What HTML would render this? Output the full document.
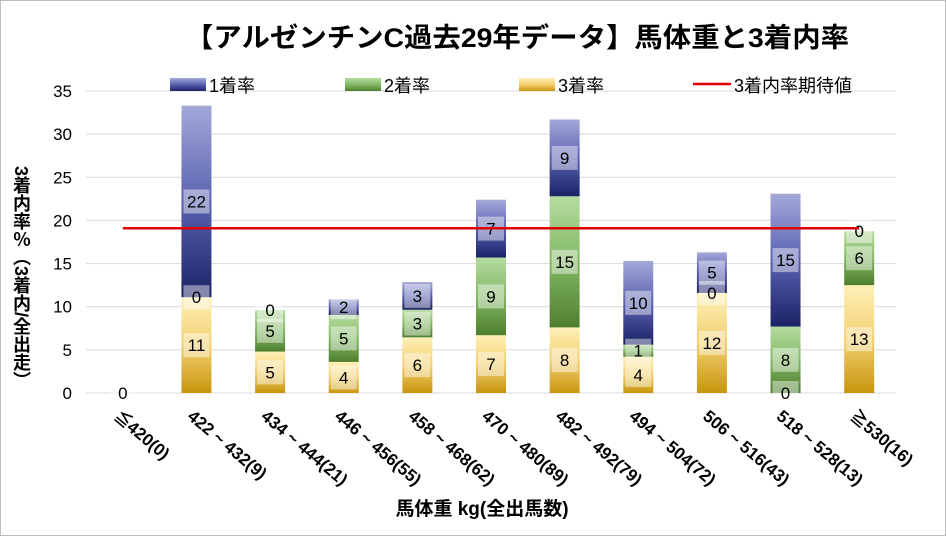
<!DOCTYPE html>
<html><head><meta charset="utf-8">
<style>
body{margin:0;background:#fff;}
#wrap{position:relative;width:946px;height:536px;overflow:hidden;font-family:"Liberation Sans","Noto Sans CJK JP",sans-serif;}
svg text{font-family:"Liberation Sans","Noto Sans CJK JP",sans-serif;}
</style></head><body>
<div id="wrap">
<svg id="chart" width="946" height="536" viewBox="0 0 946 536">
<defs>
<linearGradient id="g1" x1="0" y1="0" x2="0" y2="1"><stop offset="0" stop-color="#a4a9d9"/><stop offset="0.5" stop-color="#5a62b0"/><stop offset="1" stop-color="#1c2266"/></linearGradient>
<linearGradient id="g2" x1="0" y1="0" x2="0" y2="1"><stop offset="0" stop-color="#b5dca0"/><stop offset="0.5" stop-color="#82b864"/><stop offset="1" stop-color="#4f7f2e"/></linearGradient>
<linearGradient id="g3" x1="0" y1="0" x2="0" y2="1"><stop offset="0" stop-color="#fff0b8"/><stop offset="0.5" stop-color="#f2cf70"/><stop offset="1" stop-color="#c8960e"/></linearGradient>
</defs>
<rect x="0.5" y="0.5" width="945" height="535" fill="#fff" stroke="#bfbfbf"/>
<text x="517" y="47" text-anchor="middle" font-size="27" font-weight="bold" fill="#000" textLength="664" lengthAdjust="spacingAndGlyphs">【アルゼンチンC過去29年データ】馬体重と3着内率</text>
<g id="grid"></g><g id="bars"></g><g id="labels"></g>
<g>
<rect x="170" y="78" width="36" height="13" fill="url(#g1)"/>
<text x="209" y="92" font-size="18">1着率</text>
<rect x="345" y="78" width="36" height="13" fill="url(#g2)"/>
<text x="384" y="92" font-size="18">2着率</text>
<rect x="519" y="78" width="36" height="13" fill="url(#g3)"/>
<text x="558" y="92" font-size="18">3着率</text>
<line x1="693" y1="84" x2="731" y2="84" stroke="#e00000" stroke-width="2.5"/>
<text x="734" y="92" font-size="18">3着内率期待値</text>
</g>
<text x="482" y="515" text-anchor="middle" font-size="19" font-weight="bold">馬体重 kg(全出馬数)</text>
</svg>
<div style="position:absolute;left:10px;top:166px;writing-mode:vertical-rl;font-size:18px;font-weight:bold;line-height:22px;">3着内率％（3着内/全出走）</div>
</div>
<script>
const categories=["≦420(0)","422 ~ 432(9)","434 ~ 444(21)","446 ~ 456(55)","458 ~ 468(62)","470 ~ 480(89)","482 ~ 492(79)","494 ~ 504(72)","506 ~ 516(43)","518 ~ 528(13)","≧530(16)"];
const third=[0,11.1,4.8,3.6,6.45,6.7,7.6,4.2,11.6,0,12.5];
const second=[0,0,4.8,5.45,3.2,9.0,15.2,1.4,0,7.7,6.25];
const first=[0,22.2,0,1.8,3.2,6.7,8.9,9.7,4.7,15.4,0];
const expected=19.1;
const yTicks=[0,5,10,15,20,25,30,35];
const NS="http://www.w3.org/2000/svg";
const x0=86,x1=896,y0=393,yTop=91,ymax=35;
const bw=(x1-x0)/categories.length;
function xc(i){return x0+bw*(i+0.5);}
function ys(v){return y0-(v/ymax)*(y0-yTop);}
function mk(t,a,p){const e=document.createElementNS(NS,t);for(const k in a)e.setAttribute(k,a[k]);p.appendChild(e);return e;}
const grid=document.getElementById('grid'),bars=document.getElementById('bars'),labs=document.getElementById('labels');
yTicks.forEach(v=>{
 const l=mk('line',{x1:x0,x2:x1,y1:ys(v),y2:ys(v),stroke:'#d9d9d9','stroke-width':1},grid);
 
 
 const t=mk('text',{x:72,y:ys(v)+6,'text-anchor':'end','font-size':17},grid);t.textContent=v;
 
 
});
categories.forEach((c,i)=>{
 const cx=xc(i);
 const t=mk('text',{x:0,y:0,'font-size':17,'font-weight':'bold',transform:`translate(${cx-10},${418}) rotate(40)`},labs);t.textContent=c;
 
 
 const segs=[[third[i],'url(#g3)','bar-3rd'],[second[i],'url(#g2)','bar-2nd'],[first[i],'url(#g1)','bar-1st']];
 let base=0;
 segs.forEach(s=>{
  const v=s[0];
  if(v>0){
   const r=mk('rect',{x:cx-15,y:ys(base+v),width:30,height:ys(base)-ys(base+v),fill:s[1]},bars);
   
   
  }
  if(!(i===0&&s[2]!=='bar-3rd')){
   const ym=ys(base+v/2);
   const g=mk('g',{},labs);
   
   
   mk('rect',{x:cx-13,y:ym-12,width:26,height:24,fill:'#fff','fill-opacity':0.45},g);
   const tt=mk('text',{x:cx,y:ym+6,'text-anchor':'middle','font-size':17},g);tt.textContent=Math.round(v);
  }
  base+=v;
 });
});
const el=mk('line',{x1:xc(0),x2:xc(categories.length-1),y1:ys(expected),y2:ys(expected),stroke:'#e00000','stroke-width':2.5},labs);


</script>
</body></html>
